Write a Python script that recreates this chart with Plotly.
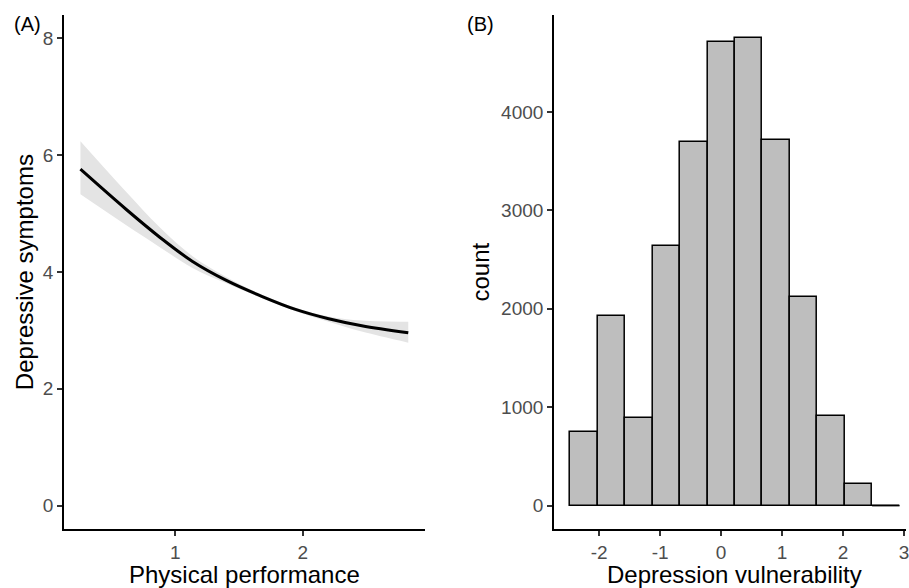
import plotly.graph_objects as go

# ---- Panel A: fitted curve of depressive symptoms vs physical performance ----
perf_x = [0.255, 0.615, 0.875, 1.135, 1.396, 1.682, 1.943, 2.203, 2.463, 2.828]
symptoms_fit = [5.76, 5.07, 4.60, 4.18, 3.86, 3.58, 3.36, 3.20, 3.08, 2.96]
symptoms_lo = [5.33, 4.80, 4.43, 4.07, 3.81, 3.55, 3.33, 3.15, 2.98, 2.79]
symptoms_hi = [6.24, 5.37, 4.77, 4.27, 3.92, 3.61, 3.39, 3.24, 3.17, 3.15]

# ---- Panel B: histogram of depression vulnerability ----
bin_centers = [-2.248, -1.798, -1.348, -0.898, -0.448, 0.002, 0.452, 0.902,
               1.352, 1.802, 2.252, 2.702]
bin_width = 0.45
bin_counts = [746, 1929, 895, 2641, 3691, 4712, 4748, 3718, 2125, 909, 224, 0]

FONT = "Liberation Sans, Arial, Helvetica, sans-serif"
TICK_FONT = dict(family=FONT, size=19, color="#4D4D4D")
TITLE_FONT = dict(family=FONT, size=24, color="black")

fig = go.Figure()

# ribbon
fig.add_trace(go.Scatter(x=perf_x, y=symptoms_lo, mode="lines",
                         line=dict(width=0, shape="spline"),
                         hoverinfo="skip", showlegend=False,
                         xaxis="x", yaxis="y"))
fig.add_trace(go.Scatter(x=perf_x, y=symptoms_hi, mode="lines",
                         line=dict(width=0, shape="spline"),
                         fill="tonexty", fillcolor="#E4E4E4",
                         hoverinfo="skip", showlegend=False,
                         xaxis="x", yaxis="y"))
# fitted line
fig.add_trace(go.Scatter(x=perf_x, y=symptoms_fit, mode="lines",
                         line=dict(color="black", width=3, shape="spline"),
                         showlegend=False, xaxis="x", yaxis="y"))

# histogram bars
fig.add_trace(go.Bar(x=bin_centers, y=bin_counts, width=bin_width,
                     marker=dict(color="#BEBEBE",
                                 line=dict(color="black", width=1.5)),
                     showlegend=False, xaxis="x2", yaxis="y2"))

# zero-count bins drawn as a flat line at 0 (as ggplot does)
zx, zy = [], []
for c, n in zip(bin_centers, bin_counts):
    if n == 0:
        zx += [c - bin_width / 2, c + bin_width / 2, None]
        zy += [0, 0, None]
fig.add_trace(go.Scatter(x=zx, y=zy, mode="lines",
                         line=dict(color="black", width=1.5),
                         showlegend=False, xaxis="x2", yaxis="y2"))

axis_common = dict(showline=True, linecolor="black", linewidth=1.5,
                   ticks="outside", ticklen=5, tickwidth=1.5,
                   tickcolor="#333333", showgrid=False, zeroline=False,
                   tickfont=TICK_FONT)

L, R, T, B = 64, 0, 15, 59
W, H = 909, 588
PW = W - L - R
PH = H - T - B


def px_x(p):
    return (p - L) / PW


def px_y(p):
    return (H - B - p) / PH


fig.update_layout(
    width=W, height=H,
    margin=dict(l=L, r=R, t=T, b=B),
    paper_bgcolor="white", plot_bgcolor="white",
    bargap=0,
    xaxis=dict(domain=[0, px_x(426)], range=[0.126, 2.957],
               tickvals=[1, 2], **axis_common),
    yaxis=dict(domain=[0, 1], range=[-0.4, 8.4],
               tickvals=[0, 2, 4, 6, 8], anchor="x", **axis_common),
    xaxis2=dict(domain=[px_x(555.7), 1], range=[-2.743, 3.033],
                tickvals=[-2, -1, 0, 1, 2, 3],
                ticktext=["-2", "-1", "0", "1", "2", "3"],
                ticklabeloverflow="allow",
                anchor="y2", **axis_common),
    yaxis2=dict(domain=[0, 1], range=[-237.4, 4985.4],
                tickvals=[0, 1000, 2000, 3000, 4000], anchor="x2",
                **axis_common),
    annotations=[
        dict(text="(A)", x=px_x(12), y=px_y(24), xref="paper", yref="paper",
             xanchor="left", yanchor="middle", showarrow=False,
             font=dict(family=FONT, size=20, color="black")),
        dict(text="(B)", x=px_x(466), y=px_y(24), xref="paper", yref="paper",
             xanchor="left", yanchor="middle", showarrow=False,
             font=dict(family=FONT, size=20, color="black")),
        dict(text="Physical performance", x=px_x(245), y=px_y(574),
             xref="paper", yref="paper", xanchor="center", yanchor="middle",
             showarrow=False, font=TITLE_FONT),
        dict(text="Depression vulnerability", x=px_x(737), y=px_y(574),
             xref="paper", yref="paper", xanchor="center", yanchor="middle",
             showarrow=False, font=TITLE_FONT),
        dict(text="Depressive symptoms", x=px_x(24), y=px_y(272),
             xref="paper", yref="paper", xanchor="center", yanchor="middle",
             textangle=-90, showarrow=False, font=TITLE_FONT),
        dict(text="count", x=px_x(481), y=px_y(272),
             xref="paper", yref="paper", xanchor="center", yanchor="middle",
             textangle=-90, showarrow=False, font=TITLE_FONT),
    ],
)

fig.write_html(
    "out.html",
    config={"displayModeBar": False},
    post_script="document.body.style.margin='0px';"
                "document.body.style.overflow='hidden';",
)
